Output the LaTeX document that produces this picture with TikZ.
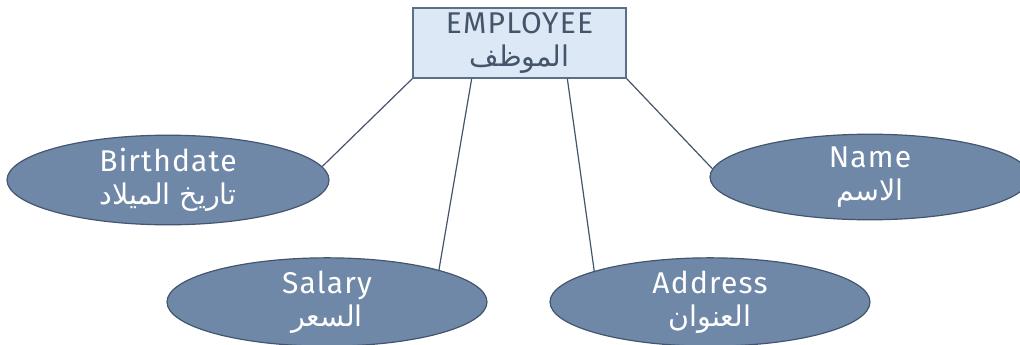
\documentclass[tikz,border=0pt]{standalone}
\usepackage{fontspec}
\setmainfont[LetterSpace=4]{Fira Sans}
\newfontfamily\arabicfont[Script=Arabic,Scale=0.95]{DejaVu Sans}
\TeXXeTstate=1
\usetikzlibrary{shapes.geometric,calc}
\definecolor{rectfill}{HTML}{DCE8F5}
\definecolor{rectline}{HTML}{5B6F86}
\definecolor{darktext}{HTML}{44546A}
\definecolor{ellfill}{HTML}{6F88A8}
\definecolor{ellline}{HTML}{43566E}
\definecolor{conn}{HTML}{44546A}
\begin{document}
\begin{tikzpicture}[x=1pt,y=-1pt,
  entity/.style={draw=rectline,line width=1.5pt,fill=rectfill,minimum width=213pt,minimum height=70pt,inner sep=0pt,text=darktext,align=center,font=\fontsize{30}{33}\selectfont},
  attr/.style={ellipse,draw=ellline,line width=1.2pt,fill=ellfill,inner sep=0pt,text=white,align=center,font=\fontsize{30}{33}\selectfont},
  link/.style={draw=conn,line width=1.2pt}]
\useasboundingbox (0,0) rectangle (1020,345);
\node[entity] (emp) at (519.5,43) {EMPLOYEE\\{\arabicfont\beginR الموظف\endR}};
\node[attr,minimum width=322pt,minimum height=76pt] (birth) at (168,180) {Birthdate\\{\arabicfont\beginR تاريخ الميلاد\endR}};
\node[attr,minimum width=320pt,minimum height=78pt] (salary) at (327,302) {Salary\\{\arabicfont\beginR السعر\endR}};
\node[attr,minimum width=320pt,minimum height=78pt] (address) at (710,302) {Address\\{\arabicfont\beginR العنوان\endR}};
\node[attr,minimum width=320pt,minimum height=80pt] (name) at (870,177) {Name\\{\arabicfont\beginR الاسم\endR}};
\coordinate (e1) at ($(emp.south west)!0.277!(emp.south east)$);
\coordinate (e2) at ($(emp.south west)!0.723!(emp.south east)$);
\draw[link] (emp.south west) -- (birth.5);
\draw[link] (e1) -- (salary.16);
\draw[link] (e2) -- (address.165);
\draw[link] (emp.south east) -- (name.177);
\end{tikzpicture}
\end{document}
